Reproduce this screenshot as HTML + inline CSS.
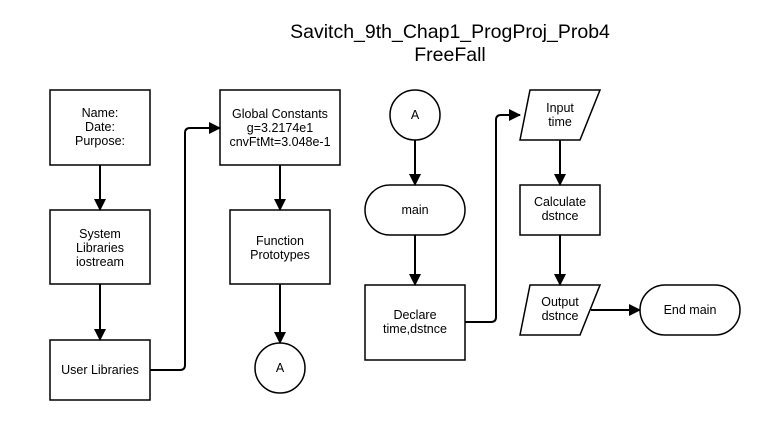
<!DOCTYPE html>
<html><head><style>
body{margin:0;background:#fff}
svg text{font-family:"Liberation Sans",sans-serif;font-size:12.5px;fill:#000;text-anchor:middle}
</style></head><body>
<svg width="766" height="420" xmlns="http://www.w3.org/2000/svg">
<defs>
<marker id="b" markerWidth="12" markerHeight="12" refX="11" refY="6" orient="auto" markerUnits="userSpaceOnUse"><path d="M0,0L12,6L0,12z" fill="#000"/></marker></defs>
<text x="450" y="38" style="font-size:19.5px">Savitch_9th_Chap1_ProgProj_Prob4</text>
<text x="450" y="61" style="font-size:19.5px">FreeFall</text>
<g fill="#fff" stroke="#000" stroke-width="1.5">
<rect x="50" y="90" width="100" height="75"/>
<rect x="50" y="210" width="100" height="74"/>
<rect x="50" y="340" width="100" height="60"/>
<rect x="220" y="90" width="120" height="75"/>
<rect x="230" y="210" width="100" height="74"/>
<circle cx="280" cy="368" r="25"/>
<circle cx="415" cy="115" r="25"/>
<rect x="365" y="185" width="100" height="50" rx="25"/>
<rect x="365" y="285" width="100" height="75"/>
<path d="M530,90H600L580,140H520Z"/>
<rect x="520" y="185" width="80" height="50"/>
<path d="M530,285H600L580,335H520Z"/>
<rect x="640" y="285" width="100" height="50" rx="25"/>
</g>
<g stroke="#000" stroke-width="2" fill="none" marker-end="url(#b)">
<path d="M100,165V210"/>
<path d="M100,284V340"/>
<path d="M280,165V210"/>
<path d="M280,284V343"/>
<path d="M415,140V185"/>
<path d="M415,235V285"/>
<path d="M560,140V185"/>
<path d="M560,235V285"/>
<path d="M591,310H640"/>
<path d="M150,370H180Q185,370 185,365V133Q185,128 190,128H220"/>
<path d="M465,322H491Q496,322 496,317V120Q496,115 501,115H520"/>
</g>
<text x="100" y="117">Name:</text><text x="100" y="131">Date:</text><text x="100" y="145">Purpose:</text>
<text x="100" y="238">System</text><text x="100" y="252">Libraries</text><text x="100" y="266">iostream</text>
<text x="100" y="374">User Libraries</text>
<text x="280" y="118">Global Constants</text><text x="280" y="132">g=3.2174e1</text><text x="280" y="146">cnvFtMt=3.048e-1</text>
<text x="280" y="245">Function</text><text x="280" y="259">Prototypes</text>
<text x="280" y="372">A</text>
<text x="415" y="119">A</text>
<text x="415" y="214">main</text>
<text x="415" y="319">Declare</text><text x="415" y="333">time,dstnce</text>
<text x="560" y="112">Input</text><text x="560" y="126">time</text>
<text x="560" y="206">Calculate</text><text x="560" y="220">dstnce</text>
<text x="560" y="306">Output</text><text x="560" y="320">dstnce</text>
<text x="690" y="314">End main</text>
</svg>
</body></html>
